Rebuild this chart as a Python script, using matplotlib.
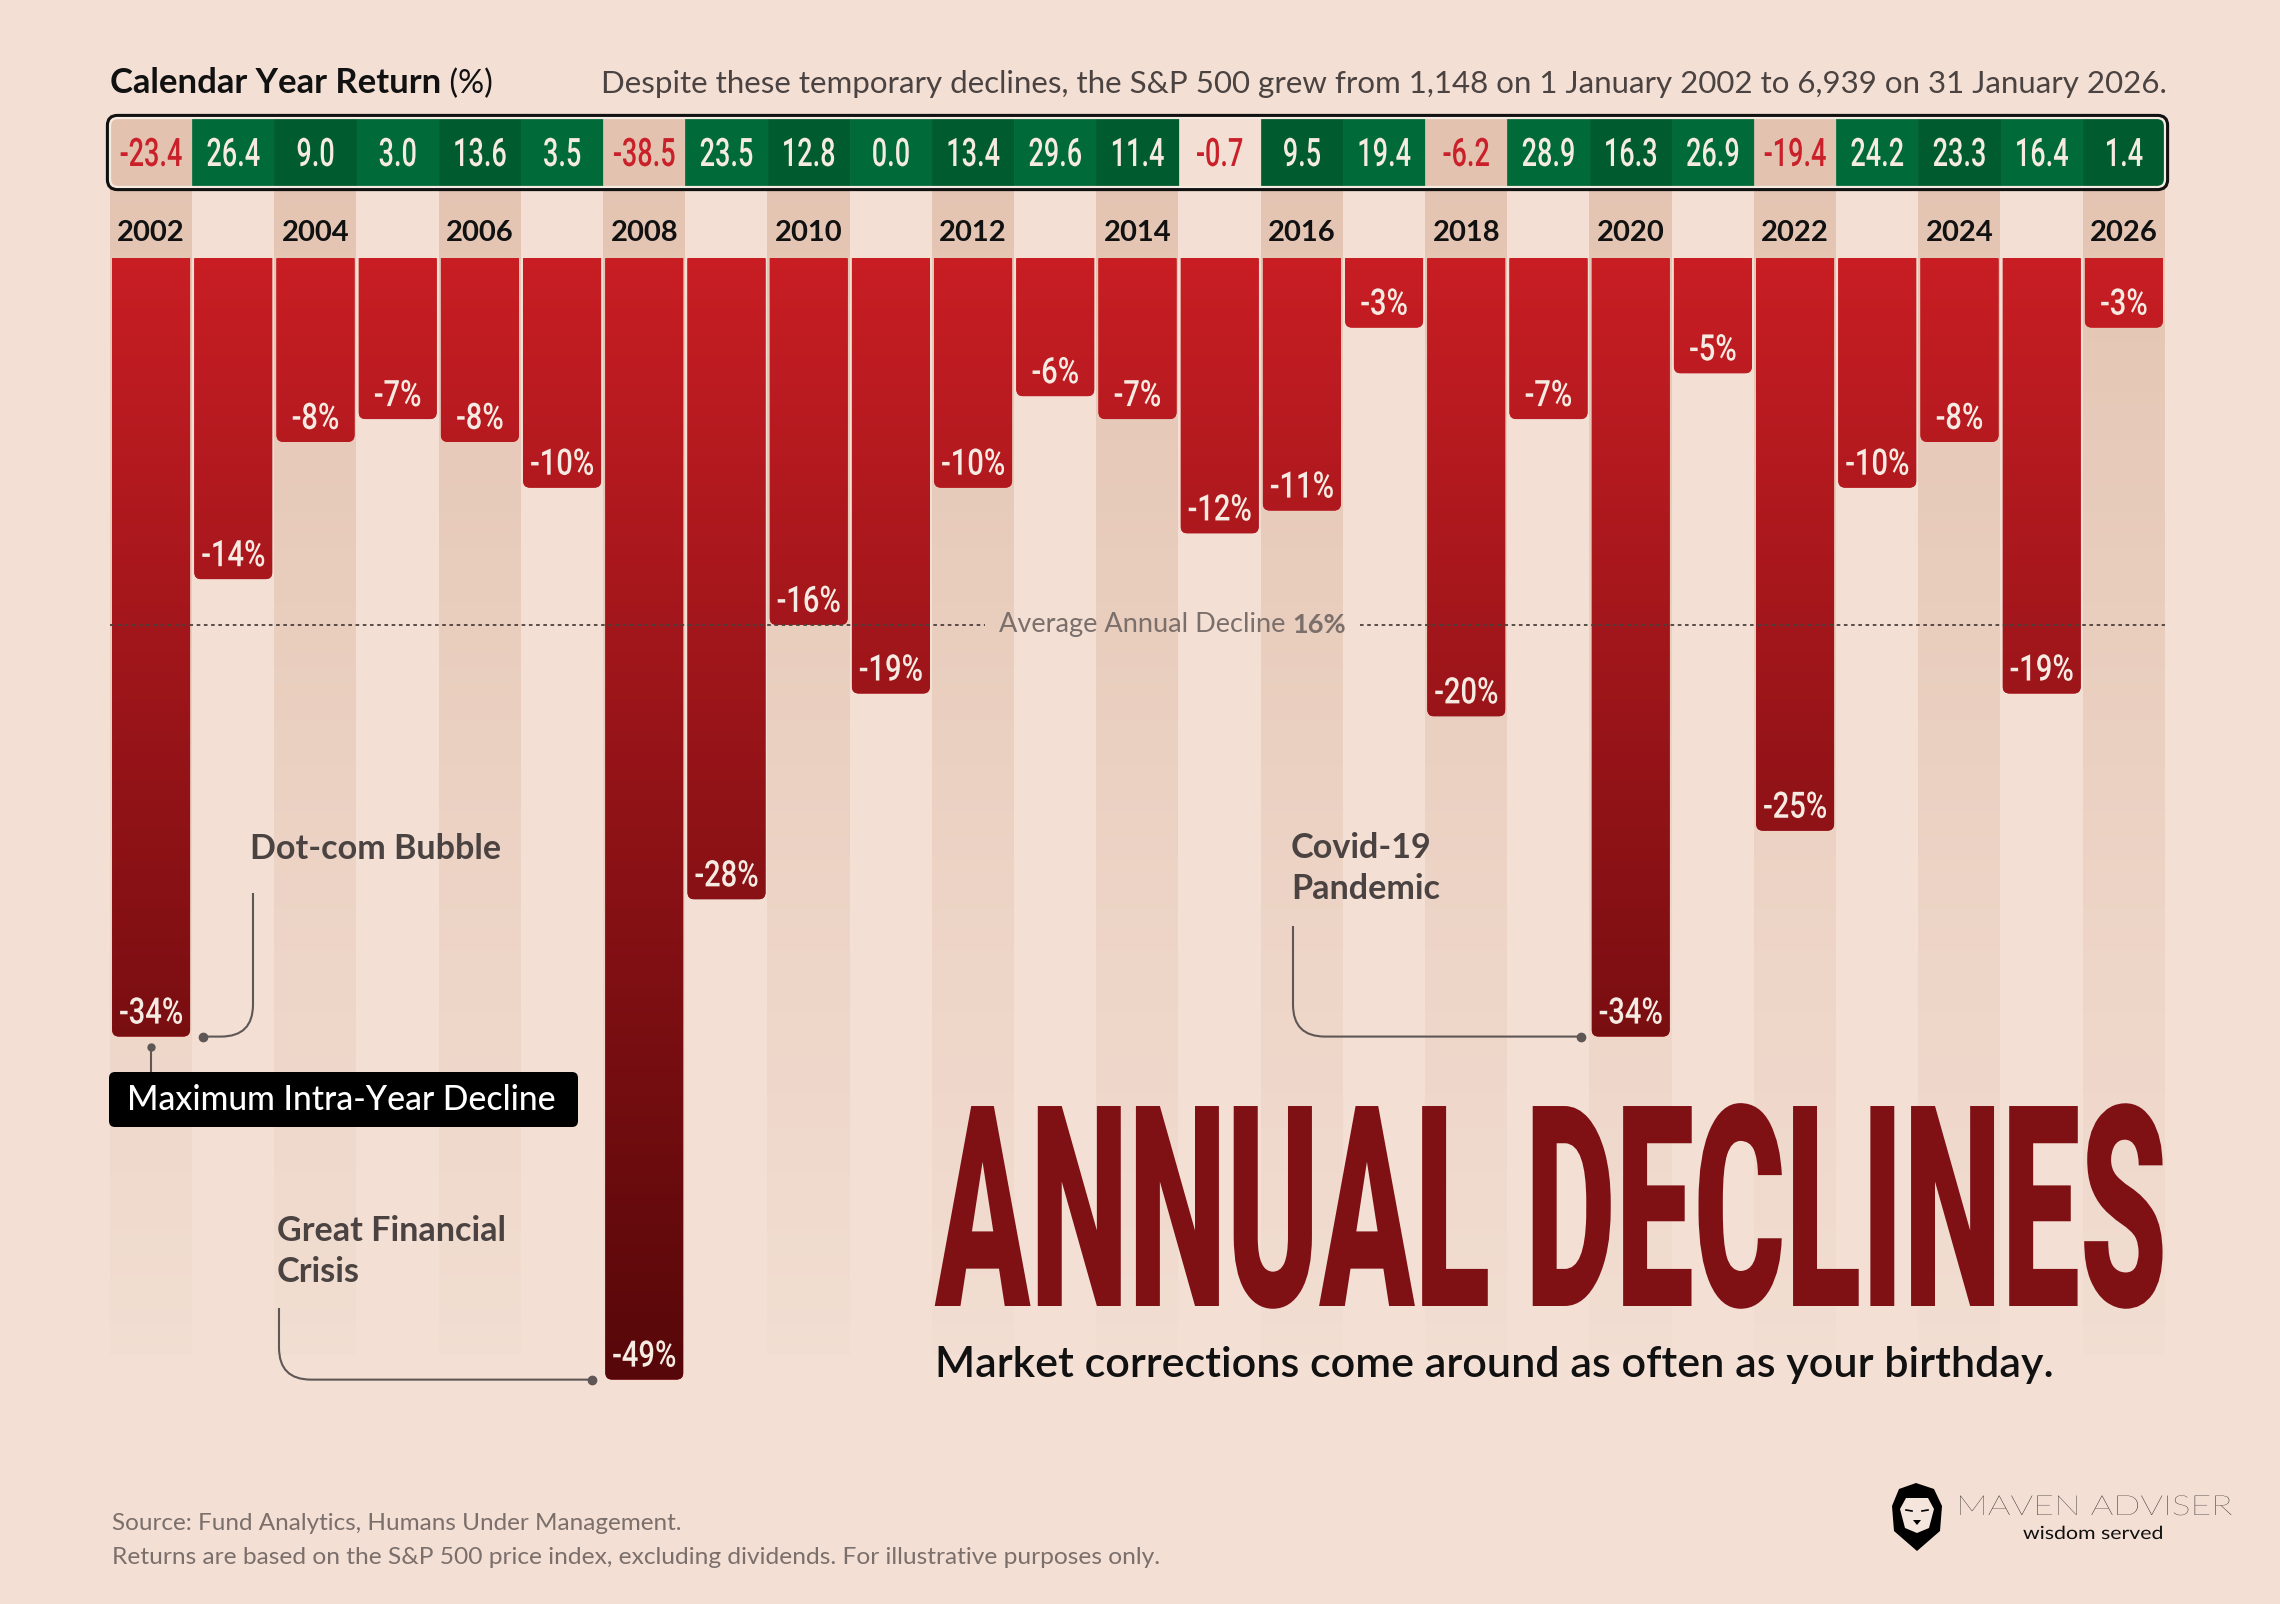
import numpy as np
import matplotlib
matplotlib.use("Agg")
import matplotlib.pyplot as plt
import matplotlib.patheffects as pe
from matplotlib.patches import FancyBboxPatch, PathPatch, Polygon
from matplotlib.path import Path
from matplotlib.transforms import Affine2D
from matplotlib.colors import to_rgb

# --- data -------------------------------------------------------------
years = list(range(2002, 2027))
calendar_return = [-23.4, 26.4, 9.0, 3.0, 13.6, 3.5, -38.5, 23.5, 12.8, 0.0, 13.4, 29.6, 11.4,
                   -0.7, 9.5, 19.4, -6.2, 28.9, 16.3, 26.9, -19.4, 24.2, 23.3, 16.4, 1.4]
max_decline = [-34, -14, -8, -7, -8, -10, -49, -28, -16, -19, -10, -6, -7,
               -12, -11, -3, -20, -7, -34, -5, -25, -10, -8, -19, -3]
avg_decline = -16
event_names = ["Dot-com Bubble", "Great Financial\nCrisis", "Covid-19\nPandemic"]
event_years = [2002, 2008, 2020]

# --- colours ----------------------------------------------------------
BG = "#f3dfd4"
STRIPE = "#e3c3b0"
GREEN = "#006a39"
GREEN_DK = "#005c2f"
NEG_TXT = "#c9202a"
CREAM = "#f6ebe2"
BAR_TOP = "#c81e24"
BAR_BOT = "#550709"
TITLE_RED = "#7f1014"
INK = "#111111"
GREY = "#4a4341"
SOFT = "#7b6f6b"
LINE = "#5f5756"

SANS = ["Lato", "DejaVu Sans"]
NUM = ["Roboto", "DejaVu Sans"]

# --- canvas geometry (pixels of the 2280 x 1604 picture) ----------------
W, H = 2280, 1604
COL_L, COL_W = 110, 82.2
TOP, PPP = 259, 22.87


def vx(px):
    return (px - COL_L) / COL_W - 0.5


def vy(py):
    return (TOP - py) / PPP


class Stretch(pe.AbstractPathEffect):
    """Scale glyph outlines (condensed / tall look) without touching the text."""

    def __init__(self, sx=1.0, sy=1.0, anchor="center"):
        super().__init__()
        self.sx, self.sy, self.anchor = sx, sy, anchor

    def draw_path(self, renderer, gc, tpath, affine, rgbFace=None):
        ext = tpath.get_extents()
        cx = {"left": ext.x0, "right": ext.x1}.get(self.anchor, (ext.x0 + ext.x1) / 2)
        aff = Affine2D().translate(-cx, 0).scale(self.sx, self.sy).translate(cx, 0) + affine
        renderer.draw_path(gc, tpath, aff, rgbFace)


fig = plt.figure(figsize=(W / 100, H / 100), dpi=100, facecolor=BG)
ax = fig.add_axes([0, 0, 1, 1])
ax.axis("off")
deco = fig.add_axes([0, 0, 1, 1], zorder=3)
deco.axis("off")

x = np.arange(len(years))
even = np.array([yr % 2 == 0 for yr in years])
asp = COL_W / PPP

# column stripes fading downwards
rows = 1200
fade = np.linspace(1.0, 0.05, rows)[:, None]
stripe = np.zeros((rows, len(years), 4))
stripe[..., :3] = to_rgb(STRIPE)
stripe[..., 3] = fade * even[None, :]
ax.imshow(stripe, extent=(-0.5, len(years) - 0.5, vy(1355), vy(117)), aspect="auto",
          interpolation="nearest", zorder=0)

# bars with a shared vertical gradient, rounded at the bottom
bars = ax.bar(x, max_decline, width=0.95, color=BAR_TOP, zorder=2)
rad = 7 / COL_W
paths = []
for b in bars:
    y_bottom = b.get_y() + min(b.get_height(), 0)
    box = FancyBboxPatch((b.get_x(), y_bottom), b.get_width(), abs(b.get_height()) + 1,
                         boxstyle=f"round,pad=0,rounding_size={rad}", mutation_aspect=asp)
    paths.append(box.get_path())
clip = Path.make_compound_path(*paths)
for b in bars:
    b.set_clip_path(clip, ax.transData)
depth = min(max_decline) - 0.5
grad = np.linspace(0, 1, 900)[:, None, None]
img = np.array(to_rgb(BAR_TOP)) * (1 - grad) + np.array(to_rgb(BAR_BOT)) * grad
im = ax.imshow(img, extent=(-0.5, len(years) - 0.5, depth, 0), aspect="auto",
               interpolation="bilinear", zorder=2)
im.set_clip_path(clip, ax.transData)

for xi, d in zip(x, max_decline):
    ax.text(xi, d + 13 / PPP, f"{d}%", ha="center", va="baseline", color=CREAM,
            fontsize=21, family=NUM, weight="medium", zorder=4,
            path_effects=[Stretch(1.0, 1.25)])

# calendar return strip
s_lo, s_hi = vy(187), vy(118)
cell_colours = []
for yr, r in zip(years, calendar_return):
    if r < 0:
        cell_colours.append(STRIPE if yr % 2 == 0 else BG)
    else:
        cell_colours.append(GREEN_DK if yr % 2 == 0 else GREEN)
cells = ax.bar(x, s_hi - s_lo, bottom=s_lo, width=1.0, color=cell_colours,
               edgecolor=cell_colours, linewidth=0.5, zorder=3)
inner = FancyBboxPatch((-0.5, s_lo), len(years), s_hi - s_lo,
                       boxstyle=f"round,pad=0,rounding_size={8 / COL_W}", mutation_aspect=asp,
                       fc="none", ec=CREAM, lw=1.6, zorder=4)
ax.add_patch(inner)
for c in cells:
    c.set_clip_path(inner)
dx, dy = 2.6 / COL_W, 2.6 / PPP
outer = FancyBboxPatch((-0.5 - dx, s_lo - dy), len(years) + 2 * dx, s_hi - s_lo + 2 * dy,
                       boxstyle=f"round,pad=0,rounding_size={10 / COL_W}", mutation_aspect=asp,
                       fc="none", ec=INK, lw=2.2, zorder=4)
ax.add_patch(outer)
for xi, r in zip(x, calendar_return):
    ax.text(xi, vy(166), f"{r:.1f}", ha="center", va="baseline",
            color=NEG_TXT if r < 0 else CREAM, fontsize=19.5, family=NUM, weight="medium",
            zorder=5, path_effects=[Stretch(1.0, 1.45)])

# year labels
for xi, yr in zip(x, years):
    if yr % 2 == 0:
        ax.text(xi, vy(241), str(yr), ha="center", va="baseline", fontsize=21,
                weight="bold", family=SANS, color=INK, zorder=4)

# average line label
avg_lab = ax.text(vx(999), avg_decline, "Average Annual Decline ", ha="left", va="center",
                  color=SOFT, fontsize=19.5, family=SANS, zorder=5)
avg_val = ax.annotate(f"{abs(avg_decline)}%", xy=(1, 0), xycoords=avg_lab, ha="left",
                      va="bottom", color=SOFT, fontsize=19.5, weight="bold", family=SANS,
                      zorder=5)


# leader lines for the events
def leader(x_v, y_from, y_h, x_end, r=32):
    rx, ry = r / COL_W, r / PPP
    s = np.sign(x_end - x_v)
    verts = [(x_v, y_from), (x_v, y_h + ry), (x_v, y_h), (x_v + s * rx, y_h), (x_end, y_h)]
    codes = [Path.MOVETO, Path.LINETO, Path.CURVE3, Path.CURVE3, Path.LINETO]
    ax.add_patch(PathPatch(Path(verts, codes), fc="none", ec=LINE, lw=1.5, zorder=5))
    ax.plot([x_end], [y_h], "o", ms=6, color=LINE, zorder=5)


ev_idx = [years.index(yr) for yr in event_years]
leader(vx(253), vy(893), max_decline[ev_idx[0]], ev_idx[0] + 0.63)
leader(vx(279), vy(1308), max_decline[ev_idx[1]], ev_idx[1] - 0.64)
leader(vx(1293), vy(926), max_decline[ev_idx[2]], ev_idx[2] - 0.6)

ev_pos = [(250, 833), (277, 1215), (1291, 832)]
ev_text = []
for name, (px, py) in zip(event_names, ev_pos):
    ev_text.append(deco.text(px, py, name, ha="left", va="top", fontsize=23, weight="bold",
                             family=SANS, color=GREY, linespacing=1.36))

# maximum intra-year decline key
ax.plot([0, 0], [max_decline[0] - 0.45, vy(1072)], color=LINE, lw=1.5, zorder=5)
ax.plot([0], [max_decline[0] - 0.45], "o", ms=5, color=LINE, zorder=5)
deco.add_patch(FancyBboxPatch((109, 1072), 469, 55, boxstyle="round,pad=0,rounding_size=6",
                              fc="#000000", ec="none", zorder=3))
key = deco.text(127, 1100, "Maximum Intra-Year Decline", ha="left", va="center",
                color="white", fontsize=23, weight="medium", family=SANS)

# headings
hdr = deco.text(110, 93, "Calendar Year Return", ha="left", va="baseline", fontsize=23.5,
                weight="bold", family=SANS, color=INK)
deco.annotate(" (%)", xy=(1, 0), xycoords=hdr, ha="left", va="bottom", fontsize=23.5,
              family=SANS, color=INK)
sub_hdr = deco.text(2167, 93, "Despite these temporary declines, the S&P 500 grew from 1,148 on "
                    "1 January 2002 to 6,939 on 31 January 2026.", ha="right", va="baseline",
                    fontsize=20, family=SANS, color=GREY)

title = deco.text(935, 1306, "ANNUAL DECLINES", ha="left", va="baseline", fontsize=100,
                  family=NUM, weight="black", color=TITLE_RED)
tagline = deco.text(935, 1377, "Market corrections come around as often as your birthday.",
                    ha="left", va="baseline", fontsize=26, weight="semibold", family=SANS,
                    color=INK)

foot1 = deco.text(112, 1523, "Source: Fund Analytics, Humans Under Management.", ha="left",
                  va="center", fontsize=15, family=SANS, color=SOFT)
foot2 = deco.text(112, 1558, "Returns are based on the S&P 500 price index, excluding dividends. "
                  "For illustrative purposes only.", ha="left", va="center", fontsize=15,
                  family=SANS, color=SOFT)

# logo
shield = [(1899, 1489), (1916, 1483), (1934, 1489), (1942, 1506), (1940, 1531),
          (1917, 1551), (1894, 1531), (1892, 1506)]
face = [(1906, 1498), (1928, 1498), (1934, 1509), (1929, 1528), (1917, 1533),
        (1905, 1528), (1900, 1509)]
deco.add_patch(Polygon(shield, closed=True, fc="#000000", ec="none"))
deco.add_patch(Polygon(face, closed=True, fc="#f5e6dd", ec="none"))
deco.add_patch(Polygon([(1913, 1520), (1921, 1520), (1917, 1525)], closed=True, fc="#000000"))
deco.plot([1906, 1912], [1510, 1511], color="#000000", lw=1.2)
deco.plot([1922, 1928], [1511, 1510], color="#000000", lw=1.2)
brand = deco.text(1957, 1515, "MAVEN ADVISER", ha="left", va="baseline", fontsize=20,
                  weight="light", family=SANS, color="#000000")
motto = deco.text(2023, 1539, "wisdom served", ha="left", va="baseline", fontsize=13,
                  family=SANS, color=INK)

ax.set_xlim(-0.5 - COL_L / COL_W, -0.5 + (W - COL_L) / COL_W)
ax.set_ylim(-(H - TOP) / PPP, TOP / PPP)
deco.set_xlim(0, W)
deco.set_ylim(H, 0)

# fit a few texts to the widths measured on the reference
fig.canvas.draw()
for t, target in [(sub_hdr, 1571), (tagline, 1116), (foot1, 569), (foot2, 1047),
                  (title, 1232), (hdr, 330), (key, 430), (ev_text[0], 252)]:
    w = t.get_window_extent().width
    t.set_fontsize(t.get_fontsize() * target / w)
for t in ev_text[1:]:
    t.set_fontsize(ev_text[0].get_fontsize())
em_px = title.get_fontsize() * fig.dpi / 72
title.set_path_effects([Stretch(1.0, 200 / (0.711 * em_px), "left")])
brand.set_path_effects([Stretch(276 / brand.get_window_extent().width, 1.0, "left")])
motto.set_path_effects([Stretch(140 / motto.get_window_extent().width, 1.0, "left")])

# dotted average line, broken around its label
fig.canvas.draw()
inv = ax.transData.inverted()
gap_l = inv.transform((avg_lab.get_window_extent().x0 - 14, 0))[0]
gap_r = inv.transform((avg_val.get_window_extent().x1 + 14, 0))[0]
ax.hlines([avg_decline, avg_decline], [-0.5, gap_r], [gap_l, len(years) - 0.5],
          colors="#4d403c", linestyles=(0, (2, 2)), lw=1.3, zorder=5)

fig.savefig("out.png", dpi=100, facecolor=BG)
